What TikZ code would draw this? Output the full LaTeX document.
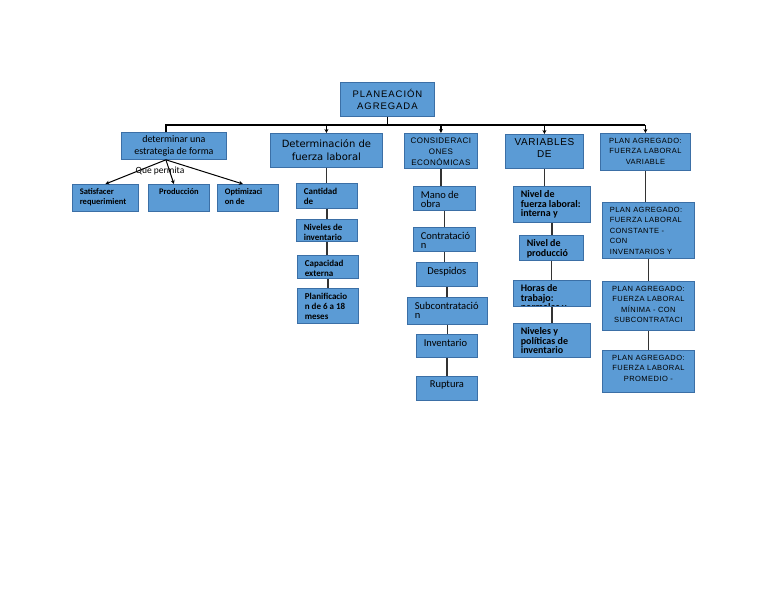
\documentclass[tikz,border=0pt]{standalone}
\usepackage{fontspec}
\setmainfont{Carlito}
\newfontfamily\capsfont[LetterSpace=6]{Liberation Sans}
\newfontfamily\widecaps[LetterSpace=10]{Liberation Sans}
\newfontfamily\dejafont{DejaVu Sans}
\usetikzlibrary{arrows.meta}
\definecolor{boxfill}{HTML}{5B9BD5}
\definecolor{boxline}{HTML}{3B6FA6}
\newcommand\fone{\fontsize{8.5}{10}\selectfont\bfseries}
\newcommand\ftwo{\fontsize{9}{10}\selectfont\bfseries}
\newcommand\fthree{\fontsize{10.5}{9.5}\selectfont}
\newcommand\ffour{\fontsize{10}{9.5}\selectfont\bfseries}
\newcommand\fcaps{\fontsize{8}{11}\selectfont\capsfont}
\newcommand\fplan{\fontsize{7.5}{10.5}\selectfont\capsfont}
\tikzset{
  box/.style={draw=boxline, fill=boxfill, line width=0.8pt, inner sep=0pt, anchor=north west},
  intext/.style={draw=none, fill=none, inner sep=0pt, minimum width=0pt, minimum height=0pt},
  tl/.style 2 args={path picture={\node[intext, anchor=north west, align=left, font=#1]
      at ([shift={(7pt,-4pt)}]path picture bounding box.north west) {#2};}},
  tc/.style 2 args={path picture={\node[intext, anchor=north, align=center, font=#1]
      at ([yshift=-4pt]path picture bounding box.north) {#2};}},
  link/.style={line width=1.2pt, draw=black},
  stem/.style={line width=1.2pt, draw=black!80},
  tip/.style={-{Stealth[length=4pt,width=4pt]}}
}
\begin{document}
\begin{tikzpicture}[x=1pt,y=-1pt]
  \fill[white] (0,0) rectangle (768,594);
  \useasboundingbox (0,0) rectangle (768,594);
  % top
  \node[box, minimum width=94pt, minimum height=34pt] (m) at (340,82) {};
  \node[align=center, font=\fontsize{9.5}{12}\selectfont\widecaps] (mt) at (m.center) {PLANEACIÓN\\AGREGADA};
  % column 1
  \node[box, minimum width=105pt, minimum height=27pt] (estr) at (121,132) {};
  \node[align=center, font=\fontsize{10}{11.5}\selectfont] (estrt) at (estr.center) {determinar una\\estrategia de forma};
  \node[box, minimum width=66pt, minimum height=27pt, tl={\fone}{Satisfacer\\requerimient}] (sat) at (72,184) {};
  \node[box, minimum width=61pt, minimum height=27pt, tc={\fone}{Producción}] (prod) at (148,184) {};
  \node[box, minimum width=61pt, minimum height=27pt, tl={\fone}{Optimizaci\\on de}] (opt) at (217,184) {};
  % column 2
  \node[box, minimum width=112pt, minimum height=34pt] (det) at (270,133) {};
  \node[align=center, font=\fontsize{10}{13}\selectfont\dejafont] (dett) at (det.center) {Determinación de\\fuerza laboral};
  \node[box, minimum width=61pt, minimum height=25pt, tl={\ftwo}{Cantidad\\de}] (cant) at (296,183) {};
  \node[box, minimum width=61pt, minimum height=22pt, tl={\ftwo}{Niveles de\\inventario}] (niv) at (296,219) {};
  \node[box, minimum width=61pt, minimum height=23pt, tl={\ftwo}{Capacidad\\externa}] (cap) at (297,255) {};
  \node[box, minimum width=61pt, minimum height=35pt, tl={\ftwo}{Planificacio\\n de 6 a 18\\meses}] (plan) at (297,288) {};
  % column 3
  \node[box, minimum width=73pt, minimum height=35pt, tc={\fcaps}{CONSIDERACI\\ONES\\ECONÓMICAS}] (cons) at (404,133) {};
  \node[box, minimum width=62pt, minimum height=24pt, tl={\fthree}{Mano de\\obra}] (mano) at (413,186) {};
  \node[box, minimum width=62pt, minimum height=24pt, tl={\fthree}{Contratació\\n}] (contr) at (413,227) {};
  \node[box, minimum width=61pt, minimum height=24pt, tc={\fthree}{Despidos}] (desp) at (416,262) {};
  \node[box, minimum width=80pt, minimum height=27pt, tl={\fthree}{Subcontratació\\n}] (sub) at (407,297) {};
  \node[box, minimum width=61pt, minimum height=23pt, tl={\fthree}{Inventario}] (inv) at (416,334) {};
  \node[box, minimum width=61pt, minimum height=24pt, tc={\fthree}{Ruptura}] (rup) at (416,376) {};
  % column 4
  \node[box, minimum width=78pt, minimum height=34pt,
        tc={\fontsize{10}{12}\selectfont\capsfont}{VARIABLES\\DE}] (var) at (505,134) {};
  \node[box, minimum width=77pt, minimum height=36pt, tl={\ffour}{Nivel de\\fuerza laboral:\\interna y}] (nfl) at (513,186) {};
  \node[box, minimum width=64pt, minimum height=25pt, tl={\ffour}{Nivel de\\producció\\n}] (nprod) at (519,235) {};
  \node[box, minimum width=77pt, minimum height=26pt, tl={\ffour}{Horas de\\trabajo:\\normales y}] (horas) at (513,280) {};
  \node[box, minimum width=77pt, minimum height=34pt, tl={\ffour}{Niveles y\\políticas de\\inventario}] (npol) at (513,323) {};
  % column 5
  \node[box, minimum width=90pt, minimum height=37pt,
        tc={\fplan}{PLAN AGREGADO:\\FUERZA LABORAL\\VARIABLE}] (pv) at (600,133) {};
  \node[box, minimum width=92pt, minimum height=56pt,
        tl={\fplan}{PLAN AGREGADO:\\FUERZA LABORAL\\CONSTANTE -\\CON\\INVENTARIOS Y}] (pc) at (602,202) {};
  \node[box, minimum width=92pt, minimum height=49pt,
        tc={\fplan}{PLAN AGREGADO:\\FUERZA LABORAL\\MÍNIMA - CON\\SUBCONTRATACI}] (pm) at (602,281) {};
  \node[box, minimum width=92pt, minimum height=42pt,
        tc={\fplan}{PLAN AGREGADO:\\FUERZA LABORAL\\PROMEDIO -}] (pp) at (602,350) {};
  % connectors
  \coordinate (bar) at (383,125);
  \draw[link] (m.south) -- (m.south |- bar);
  \draw[link] ([xshift=-8pt]estr.north) |- (pv.north |- bar);
  \foreach \n in {det,cons,var,pv}
    \draw[link,tip] (\n.north |- bar) -- (\n.north);
  \coordinate (fan) at ([xshift=-8pt]estr.south);
  \draw[line width=1pt,tip] (fan) -- (sat.north);
  \draw[line width=1pt,tip] (fan) -- ([xshift=-5pt]prod.north);
  \draw[line width=1pt,tip] (fan) -- ([xshift=-5pt]opt.north);
  \node[font=\fontsize{9.5}{11}\selectfont, inner sep=0pt] (qp) at (160,171) {Que permita};
  \foreach \a/\b in {det/cant,cant/niv,niv/cap,cap/plan,cons/mano,mano/contr,contr/desp,desp/sub,
                     sub/inv,inv/rup,var/nfl,nfl/nprod,nprod/horas,horas/npol,pv/pc,pc/pm,pm/pp}
    \draw[stem] (\a.south) -- (\a.south |- \b.north);
\end{tikzpicture}
\end{document}
